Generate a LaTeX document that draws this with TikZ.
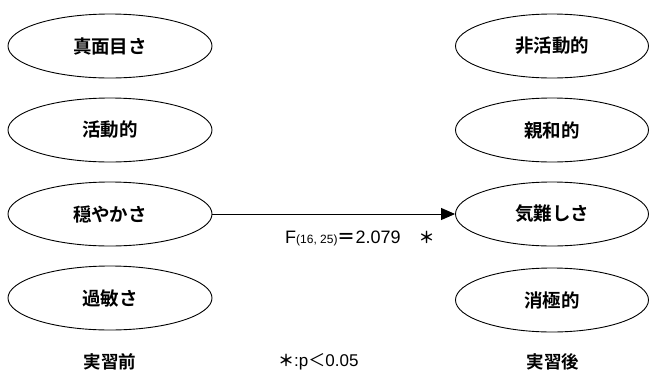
\documentclass[tikz,border=0pt]{standalone}
\usepackage{fontspec}
\setmainfont{Noto Sans CJK JP}[BoldFont={* Bold}]
\newfontfamily\latinf{Liberation Sans}
\usetikzlibrary{shapes.geometric,arrows.meta}
\begin{document}
\begin{tikzpicture}[x=1pt,y=-1pt,
  trait/.style={draw,ellipse,line width=0.9pt,inner sep=0pt,minimum height=64pt,font=\fontsize{18.5}{20}\selectfont\bfseries},
  lefttrait/.style={trait,minimum width=204pt},
  righttrait/.style={trait,minimum width=193pt},
  caption/.style={font=\fontsize{17.5}{19}\selectfont\bfseries}]
\useasboundingbox (0,0) rectangle (649,373);
\node[lefttrait] (l1) at (110,46) {真面目さ};
\node[lefttrait] (l2) at (110,130) {活動的};
\node[lefttrait] (l3) at (110,214) {穏やかさ};
\node[lefttrait] (l4) at (110,298) {過敏さ};
\node[righttrait] (r1) at (552,46) {非活動的};
\node[righttrait] (r2) at (552,130) {親和的};
\node[righttrait] (r3) at (552,214) {気難しさ};
\node[righttrait] (r4) at (552,300) {消極的};
\draw[line width=0.9pt,-{Triangle[length=14pt,width=12pt]}] (l3.east) -- (r3.west);
\node[anchor=west,inner sep=0pt] (flabel) at (285,238) {{\latinf\fontsize{18}{20}\selectfont F}{\latinf\fontsize{12}{14}\selectfont (16, 25)}{\fontsize{18}{20}\selectfont\bfseries ＝}{\latinf\fontsize{18}{20}\selectfont 2.079\hspace{18pt}}{\fontsize{16}{18}\selectfont\bfseries ＊}};
\node[caption] (pre) at (110,362) {実習前};
\node[caption] (post) at (553,362) {実習後};
\node[anchor=west,inner sep=0pt] (note) at (278,362) {{\fontsize{16}{18}\selectfont\bfseries ＊}{\latinf\fontsize{17}{19}\selectfont :p}{\fontsize{17}{19}\selectfont ＜}{\latinf\fontsize{17}{19}\selectfont 0.05}};
\end{tikzpicture}
\end{document}
